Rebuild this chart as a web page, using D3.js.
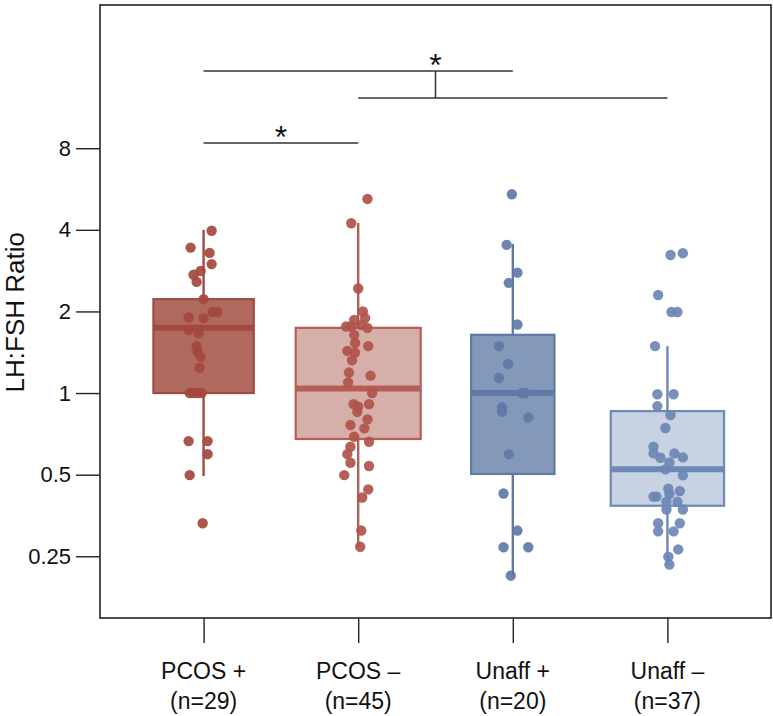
<!DOCTYPE html>
<html>
<head>
<meta charset="utf-8">
<script src="https://cdn.jsdelivr.net/npm/d3@7"></script>
<style>
  html, body { margin: 0; padding: 0; background: #fff; }
  svg { display: block; }
  text { font-family: "Liberation Sans", Arial, Helvetica, sans-serif; fill: #111; }
</style>
</head>
<body>
<div id="chart"></div>
<script>
// ---------------- DATA ----------------
const categories = ["PCOS +", "PCOS –", "Unaff +", "Unaff –"];
const sampleSizes = [29, 45, 20, 37];
const yTickValues = [0.25, 0.5, 1, 2, 4, 8];
const yLabel = "LH:FSH Ratio";

// box statistics
const q1 = [1.0, 0.677, 0.503, 0.384];
const medians = [1.74, 1.04, 1.0, 0.523];
const q3 = [2.22, 1.74, 1.64, 0.858];
const whiskerLow = [0.494, 0.27, 0.213, 0.232];
const whiskerHigh = [4.0, 4.24, 3.55, 1.49];

// individual points (values) and horizontal jitter (fraction of category step)
const pcosPosValues = [3.97, 3.44, 3.29, 2.99, 2.82, 2.73, 2.57, 2.22, 1.99, 1.99, 1.90, 1.89, 1.71, 1.66, 1.49, 1.42, 1.36, 1.24, 1.0, 1.0, 1.0, 1.0, 0.665, 0.665, 0.595, 0.498, 0.331];
const pcosPosJitter = [0.052, -0.084, 0.039, 0.052, -0.019, -0.065, -0.045, 0, 0.058, 0.09, -0.097, 0, -0.097, -0.032, -0.045, -0.039, -0.019, -0.026, -0.09, -0.065, -0.039, -0.013, -0.097, 0.026, 0.026, -0.09, -0.006];

const pcosNegValues = [5.20, 4.23, 2.43, 2.0, 1.86, 1.89, 1.76, 1.76, 1.78, 1.74, 1.64, 1.53, 1.49, 1.43, 1.41, 1.32, 1.19, 1.16, 1.095, 1.0, 0.91, 0.89, 0.91, 0.853, 0.80, 0.762, 0.741, 0.69, 0.661, 0.634, 0.595, 0.553, 0.538, 0.498, 0.441, 0.412, 0.311, 0.271];
const pcosNegJitter = [0.06, -0.045, 0, 0.03, -0.026, 0.045, -0.078, -0.045, 0.02, 0.06, -0.026, -0.02, 0.065, -0.07, -0.02, -0.04, -0.06, 0.08, -0.065, 0.09, -0.03, 0, 0.07, -0.006, 0.06, -0.05, 0.04, -0.026, 0.07, -0.05, -0.07, -0.05, 0.07, -0.09, 0.065, 0.026, 0.02, 0.013];

const unaffPosValues = [5.41, 3.52, 2.78, 2.55, 1.79, 1.49, 1.28, 1.136, 1.0, 1.0, 0.886, 0.853, 0.813, 0.595, 0.426, 0.311, 0.27, 0.27, 0.212];
const unaffPosJitter = [-0.006, -0.04, 0.03, -0.026, 0.03, -0.09, -0.03, -0.09, 0.06, 0.08, -0.07, -0.07, 0.1, -0.026, -0.06, 0.03, -0.06, 0.1, -0.013];

const unaffNegValues = [3.23, 3.28, 2.30, 1.99, 1.99, 1.49, 0.99, 0.99, 0.895, 0.83, 0.743, 0.634, 0.599, 0.577, 0.599, 0.579, 0.555, 0.523, 0.497, 0.444, 0.435, 0.424, 0.415, 0.415, 0.397, 0.397, 0.372, 0.372, 0.331, 0.331, 0.309, 0.309, 0.265, 0.249, 0.233];
const unaffNegJitter = [0.02, 0.1, -0.06, 0.026, 0.065, -0.08, -0.065, 0.04, -0.065, 0.02, -0.013, -0.09, -0.09, -0.045, 0.045, 0.1, 0.013, -0.013, 0.1, 0.006, 0.08, 0.013, -0.09, -0.07, -0.006, 0.065, -0.006, 0.1, -0.06, 0.08, -0.06, 0.04, 0.07, 0.006, 0.013];

// significance comparisons (groups of categories)
const comparisons = [
  { left: ["PCOS +"], right: ["PCOS –"], label: "*" },
  { left: ["PCOS +", "Unaff +"], right: ["PCOS –", "Unaff –"], label: "*" }
];

// ---------------- STYLE / LAYOUT ----------------
const W = 773, H = 716;
const frame = { left: 100, right: 771, top: 5, bottom: 618 };
const boxFill = ["#b0695f", "#d6aeaa", "#8499ba", "#c7d2e3"];
const boxStroke = ["#a34a40", "#b55e56", "#5f7aa7", "#6e89b6"];
const pointColor = ["#a4483e", "#b0544a", "#5f7aa8", "#6c87b4"];

const groups = [
  { values: pcosPosValues, jitter: pcosPosJitter },
  { values: pcosNegValues, jitter: pcosNegJitter },
  { values: unaffPosValues, jitter: unaffPosJitter },
  { values: unaffNegValues, jitter: unaffNegJitter }
];

const svg = d3.select("#chart").append("svg")
  .attr("width", W).attr("height", H);

const x = d3.scalePoint().domain(categories)
  .range([frame.left, frame.right]).padding(0.67);
const y = d3.scaleLog().base(2).domain([0.148, 27])
  .range([frame.bottom, frame.top]);
const step = x.step();
const boxWidth = d3.scaleSqrt().domain([0, 45]).range([0, 125]);

// frame
svg.append("rect")
  .attr("x", frame.left).attr("y", frame.top)
  .attr("width", frame.right - frame.left)
  .attr("height", frame.bottom - frame.top)
  .attr("fill", "none").attr("stroke", "#222").attr("stroke-width", 1.6);

// y axis
const yAxis = d3.axisLeft(y).tickValues(yTickValues)
  .tickFormat(d => String(d)).tickSize(24).tickPadding(5);
const gy = svg.append("g").attr("transform", `translate(${frame.left},0)`).call(yAxis);
gy.select(".domain").remove();
gy.selectAll(".tick line").attr("stroke", "#222").attr("stroke-width", 1.4);
gy.selectAll(".tick text")
  .style("font-family", '"Liberation Sans", Arial, sans-serif')
  .attr("font-size", 22).attr("fill", "#111");

// y label
svg.append("text")
  .attr("transform", `translate(24,${(y(1) + y(2)) / 2 - 40}) rotate(-90)`)
  .attr("text-anchor", "middle")
  .attr("font-size", 26)
  .text(yLabel);

// x axis
const xAxis = d3.axisBottom(x).tickSize(25).tickFormat("");
const gx = svg.append("g").attr("transform", `translate(0,${frame.bottom})`).call(xAxis);
gx.select(".domain").remove();
gx.selectAll(".tick line").attr("stroke", "#222").attr("stroke-width", 1.4);

const xLab = svg.append("g").selectAll("text").data(categories).join("text")
  .attr("x", d => x(d)).attr("y", 679)
  .attr("text-anchor", "middle").attr("font-size", 23);
xLab.append("tspan").attr("x", d => x(d)).text(d => d);
xLab.append("tspan").attr("x", d => x(d)).attr("dy", 30)
  .text((d, i) => `(n=${sampleSizes[i]})`);

// boxes
const boxes = svg.append("g").selectAll("g").data(categories).join("g");
boxes.each(function (c, i) {
  const g = d3.select(this);
  const cx = x(c);
  const bw = boxWidth(sampleSizes[i]);
  g.append("line").attr("x1", cx).attr("x2", cx)
    .attr("y1", y(q3[i])).attr("y2", y(whiskerHigh[i]))
    .attr("stroke", boxStroke[i]).attr("stroke-width", 2.4);
  g.append("line").attr("x1", cx).attr("x2", cx)
    .attr("y1", y(q1[i])).attr("y2", y(whiskerLow[i]))
    .attr("stroke", boxStroke[i]).attr("stroke-width", 2.4);
  g.append("rect")
    .attr("x", cx - bw / 2).attr("y", y(q3[i]))
    .attr("width", bw).attr("height", y(q1[i]) - y(q3[i]))
    .attr("fill", boxFill[i]).attr("stroke", boxStroke[i]).attr("stroke-width", 2.2);
  g.append("line")
    .attr("x1", cx - bw / 2).attr("x2", cx + bw / 2)
    .attr("y1", y(medians[i])).attr("y2", y(medians[i]))
    .attr("stroke", boxStroke[i]).attr("stroke-width", 6);
});

// points
groups.forEach((grp, i) => {
  const c = categories[i];
  svg.append("g").selectAll("circle").data(grp.values).join("circle")
    .attr("cx", (v, j) => x(c) + grp.jitter[j] * step)
    .attr("cy", v => y(v))
    .attr("r", 5.2)
    .attr("fill", pointColor[i])
    .attr("fill-opacity", 0.92);
});

// significance brackets
const levels = [143, 71, 98];
const bracketColor = "#333";
const b = svg.append("g");
{
  const cmp = comparisons[0];
  const x1 = x(cmp.left[0]), x2 = x(cmp.right[0]);
  b.append("line").attr("x1", x1).attr("x2", x2).attr("y1", levels[0]).attr("y2", levels[0])
    .attr("stroke", bracketColor).attr("stroke-width", 1.5);
  b.append("text").attr("x", (x1 + x2) / 2).attr("y", levels[0] + 5)
    .attr("text-anchor", "middle").attr("font-size", 32).text(cmp.label);
}
{
  const cmp = comparisons[1];
  const l1 = x(cmp.left[0]), l2 = x(cmp.left[1]);
  const r1 = x(cmp.right[0]), r2 = x(cmp.right[1]);
  const mid = (l1 + r2) / 2;
  b.append("line").attr("x1", l1).attr("x2", l2).attr("y1", levels[1]).attr("y2", levels[1])
    .attr("stroke", bracketColor).attr("stroke-width", 1.5);
  b.append("line").attr("x1", r1).attr("x2", r2).attr("y1", levels[2]).attr("y2", levels[2])
    .attr("stroke", bracketColor).attr("stroke-width", 1.5);
  b.append("line").attr("x1", mid).attr("x2", mid).attr("y1", levels[1]).attr("y2", levels[2])
    .attr("stroke", bracketColor).attr("stroke-width", 1.5);
  b.append("text").attr("x", mid).attr("y", levels[1] + 5)
    .attr("text-anchor", "middle").attr("font-size", 32).text(cmp.label);
}
</script>
</body>
</html>
